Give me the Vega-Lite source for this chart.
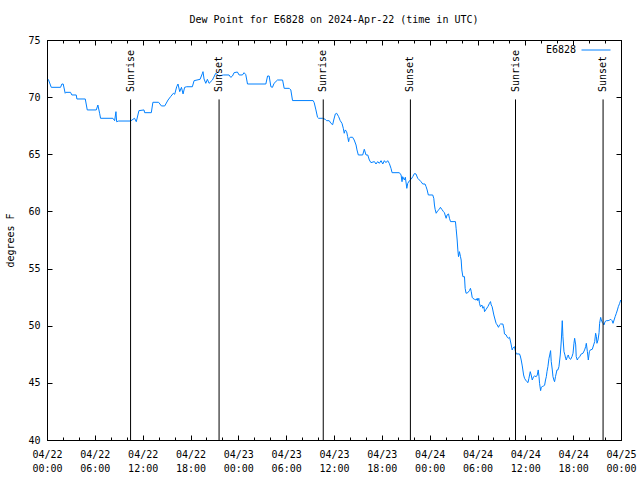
{
  "$schema": "https://vega.github.io/schema/vega-lite/v6.json",
  "width": 574,
  "height": 400,
  "autosize": "none",
  "padding": {"left": 47, "top": 40, "right": 19, "bottom": 40},
  "background": "white",
  "title": {"text": "Dew Point for E6828 on 2024-Apr-22 (time in UTC)", "anchor": "middle", "font": "DejaVu Sans Mono", "fontSize": 10, "fontWeight": "normal", "color": "black", "offset": 10},
  "datasets": {
    "dew": [
      {"t":"2024-04-22T00:10Z","v":71.56},{"t":"2024-04-22T00:32Z","v":70.86},{"t":"2024-04-22T01:42Z","v":70.86},{"t":"2024-04-22T01:52Z","v":71.15},{"t":"2024-04-22T02:02Z","v":71.15},{"t":"2024-04-22T02:17Z","v":70.34},{"t":"2024-04-22T02:22Z","v":70.42},{"t":"2024-04-22T02:57Z","v":70.42},{"t":"2024-04-22T03:07Z","v":70.19},{"t":"2024-04-22T03:40Z","v":70.19},{"t":"2024-04-22T03:45Z","v":69.84},{"t":"2024-04-22T04:48Z","v":69.84},{"t":"2024-04-22T05:03Z","v":68.88},{"t":"2024-04-22T06:11Z","v":68.88},{"t":"2024-04-22T06:23Z","v":69.31},{"t":"2024-04-22T06:36Z","v":68.59},{"t":"2024-04-22T06:43Z","v":68.15},{"t":"2024-04-22T08:16Z","v":68.15},{"t":"2024-04-22T08:29Z","v":67.94},{"t":"2024-04-22T08:39Z","v":68.73},{"t":"2024-04-22T08:44Z","v":67.85},{"t":"2024-04-22T08:59Z","v":67.91},{"t":"2024-04-22T10:29Z","v":67.91},{"t":"2024-04-22T10:47Z","v":68.06},{"t":"2024-04-22T10:59Z","v":68.15},{"t":"2024-04-22T11:12Z","v":67.85},{"t":"2024-04-22T11:32Z","v":68.82},{"t":"2024-04-22T12:10Z","v":68.88},{"t":"2024-04-22T12:15Z","v":68.64},{"t":"2024-04-22T13:05Z","v":68.64},{"t":"2024-04-22T13:17Z","v":69.55},{"t":"2024-04-22T14:00Z","v":69.55},{"t":"2024-04-22T14:21Z","v":69.23},{"t":"2024-04-22T14:46Z","v":69.23},{"t":"2024-04-22T15:11Z","v":69.75},{"t":"2024-04-22T15:30Z","v":70.04},{"t":"2024-04-22T15:51Z","v":70.34},{"t":"2024-04-22T16:01Z","v":70.25},{"t":"2024-04-22T16:16Z","v":70.91},{"t":"2024-04-22T16:26Z","v":71.15},{"t":"2024-04-22T16:39Z","v":70.48},{"t":"2024-04-22T16:52Z","v":70.86},{"t":"2024-04-22T17:04Z","v":70.28},{"t":"2024-04-22T17:16Z","v":70.86},{"t":"2024-04-22T17:31Z","v":70.91},{"t":"2024-04-22T18:14Z","v":70.91},{"t":"2024-04-22T18:27Z","v":71.44},{"t":"2024-04-22T19:12Z","v":71.56},{"t":"2024-04-22T19:30Z","v":72.09},{"t":"2024-04-22T19:34Z","v":72.23},{"t":"2024-04-22T19:42Z","v":71.59},{"t":"2024-04-22T19:55Z","v":71.21},{"t":"2024-04-22T20:07Z","v":71.56},{"t":"2024-04-22T20:20Z","v":71.21},{"t":"2024-04-22T20:45Z","v":71.5},{"t":"2024-04-22T21:10Z","v":72.09},{"t":"2024-04-22T21:35Z","v":71.85},{"t":"2024-04-22T22:08Z","v":71.94},{"t":"2024-04-22T22:50Z","v":71.94},{"t":"2024-04-22T23:03Z","v":71.73},{"t":"2024-04-22T23:16Z","v":71.85},{"t":"2024-04-22T23:28Z","v":72.14},{"t":"2024-04-22T23:53Z","v":72.2},
      {"t":"2024-04-23T00:06Z","v":71.94},{"t":"2024-04-23T00:31Z","v":71.94},{"t":"2024-04-23T00:43Z","v":72.14},{"t":"2024-04-23T00:56Z","v":71.97},{"t":"2024-04-23T01:09Z","v":71.15},{"t":"2024-04-23T03:27Z","v":71.15},{"t":"2024-04-23T03:40Z","v":71.85},{"t":"2024-04-23T03:52Z","v":71.85},{"t":"2024-04-23T04:05Z","v":70.91},{"t":"2024-04-23T04:17Z","v":70.86},{"t":"2024-04-23T04:29Z","v":71.21},{"t":"2024-04-23T04:55Z","v":71.5},{"t":"2024-04-23T05:33Z","v":71.5},{"t":"2024-04-23T05:45Z","v":70.77},{"t":"2024-04-23T06:23Z","v":70.77},{"t":"2024-04-23T06:35Z","v":70.63},{"t":"2024-04-23T06:48Z","v":69.7},{"t":"2024-04-23T09:23Z","v":69.7},{"t":"2024-04-23T09:31Z","v":69.52},{"t":"2024-04-23T09:44Z","v":68.88},{"t":"2024-04-23T09:56Z","v":68.24},{"t":"2024-04-23T10:04Z","v":68.15},{"t":"2024-04-23T10:34Z","v":68.15},{"t":"2024-04-23T10:54Z","v":68.06},{"t":"2024-04-23T11:04Z","v":67.94},{"t":"2024-04-23T11:24Z","v":67.94},{"t":"2024-04-23T11:37Z","v":67.71},{"t":"2024-04-23T11:50Z","v":67.59},{"t":"2024-04-23T11:58Z","v":68.0},{"t":"2024-04-23T12:10Z","v":68.53},{"t":"2024-04-23T12:20Z","v":68.59},{"t":"2024-04-23T12:35Z","v":68.29},{"t":"2024-04-23T12:47Z","v":67.94},{"t":"2024-04-23T13:00Z","v":67.71},{"t":"2024-04-23T13:10Z","v":67.27},{"t":"2024-04-23T13:17Z","v":66.84},{"t":"2024-04-23T13:25Z","v":67.13},{"t":"2024-04-23T13:35Z","v":66.98},{"t":"2024-04-23T13:43Z","v":66.54},{"t":"2024-04-23T13:50Z","v":66.1},{"t":"2024-04-23T13:55Z","v":66.4},{"t":"2024-04-23T14:02Z","v":66.49},{"t":"2024-04-23T14:20Z","v":66.49},{"t":"2024-04-23T14:32Z","v":66.25},{"t":"2024-04-23T14:46Z","v":65.81},{"t":"2024-04-23T14:53Z","v":65.38},{"t":"2024-04-23T15:03Z","v":64.94},{"t":"2024-04-23T15:36Z","v":64.94},{"t":"2024-04-23T15:48Z","v":65.44},{"t":"2024-04-23T16:01Z","v":64.94},{"t":"2024-04-23T16:14Z","v":64.94},{"t":"2024-04-23T16:26Z","v":64.5},{"t":"2024-04-23T16:38Z","v":64.27},{"t":"2024-04-23T17:04Z","v":64.36},{"t":"2024-04-23T17:16Z","v":64.15},{"t":"2024-04-23T17:29Z","v":64.36},{"t":"2024-04-23T17:41Z","v":64.21},{"t":"2024-04-23T17:54Z","v":64.44},{"t":"2024-04-23T18:07Z","v":64.15},{"t":"2024-04-23T18:19Z","v":64.44},{"t":"2024-04-23T18:31Z","v":64.27},{"t":"2024-04-23T18:44Z","v":64.44},{"t":"2024-04-23T18:56Z","v":64.21},{"t":"2024-04-23T19:09Z","v":63.77},{"t":"2024-04-23T19:17Z","v":63.39},{"t":"2024-04-23T20:12Z","v":63.39},{"t":"2024-04-23T20:25Z","v":63.19},{"t":"2024-04-23T20:32Z","v":62.6},{"t":"2024-04-23T20:37Z","v":63.04},{"t":"2024-04-23T20:50Z","v":62.75},{"t":"2024-04-23T20:57Z","v":62.99},{"t":"2024-04-23T21:08Z","v":62.02},{"t":"2024-04-23T21:15Z","v":62.46},{"t":"2024-04-23T21:28Z","v":62.69},{"t":"2024-04-23T21:40Z","v":62.81},{"t":"2024-04-23T21:53Z","v":63.05},{"t":"2024-04-23T22:05Z","v":63.31},{"t":"2024-04-23T22:17Z","v":63.28},{"t":"2024-04-23T22:30Z","v":62.9},{"t":"2024-04-23T22:43Z","v":62.75},{"t":"2024-04-23T22:55Z","v":62.6},{"t":"2024-04-23T23:08Z","v":62.4},{"t":"2024-04-23T23:25Z","v":62.4},{"t":"2024-04-23T23:33Z","v":62.17},{"t":"2024-04-23T23:41Z","v":61.88},{"t":"2024-04-23T23:50Z","v":61.44},
      {"t":"2024-04-24T00:23Z","v":61.44},{"t":"2024-04-24T00:31Z","v":61.15},{"t":"2024-04-24T00:36Z","v":60.56},{"t":"2024-04-24T00:41Z","v":60.19},{"t":"2024-04-24T00:49Z","v":59.84},{"t":"2024-04-24T01:01Z","v":60.07},{"t":"2024-04-24T01:13Z","v":60.19},{"t":"2024-04-24T01:21Z","v":60.36},{"t":"2024-04-24T01:31Z","v":60.19},{"t":"2024-04-24T01:44Z","v":59.98},{"t":"2024-04-24T01:51Z","v":59.89},{"t":"2024-04-24T01:56Z","v":59.69},{"t":"2024-04-24T02:04Z","v":59.4},{"t":"2024-04-24T02:11Z","v":59.69},{"t":"2024-04-24T02:22Z","v":59.78},{"t":"2024-04-24T02:29Z","v":59.4},{"t":"2024-04-24T02:37Z","v":59.11},{"t":"2024-04-24T03:14Z","v":59.11},{"t":"2024-04-24T03:19Z","v":58.53},{"t":"2024-04-24T03:27Z","v":57.5},{"t":"2024-04-24T03:32Z","v":56.63},{"t":"2024-04-24T03:37Z","v":56.04},{"t":"2024-04-24T03:44Z","v":56.48},{"t":"2024-04-24T03:52Z","v":56.04},{"t":"2024-04-24T03:57Z","v":55.75},{"t":"2024-04-24T04:02Z","v":54.88},{"t":"2024-04-24T04:10Z","v":54.29},{"t":"2024-04-24T04:22Z","v":54.29},{"t":"2024-04-24T04:27Z","v":53.27},{"t":"2024-04-24T04:34Z","v":52.84},{"t":"2024-04-24T04:47Z","v":52.89},{"t":"2024-04-24T04:59Z","v":53.07},{"t":"2024-04-24T05:07Z","v":53.27},{"t":"2024-04-24T05:13Z","v":52.98},{"t":"2024-04-24T05:20Z","v":52.49},{"t":"2024-04-24T05:25Z","v":52.4},{"t":"2024-04-24T05:37Z","v":52.31},{"t":"2024-04-24T05:50Z","v":52.25},{"t":"2024-04-24T05:58Z","v":52.4},{"t":"2024-04-24T06:02Z","v":52.19},{"t":"2024-04-24T06:10Z","v":52.4},{"t":"2024-04-24T06:15Z","v":51.96},{"t":"2024-04-24T06:22Z","v":51.67},{"t":"2024-04-24T06:33Z","v":51.81},{"t":"2024-04-24T06:40Z","v":51.53},{"t":"2024-04-24T06:48Z","v":51.67},{"t":"2024-04-24T06:53Z","v":51.23},{"t":"2024-04-24T07:05Z","v":51.44},{"t":"2024-04-24T07:18Z","v":51.67},{"t":"2024-04-24T07:30Z","v":51.96},{"t":"2024-04-24T07:38Z","v":52.11},{"t":"2024-04-24T07:43Z","v":51.82},{"t":"2024-04-24T07:50Z","v":51.67},{"t":"2024-04-24T08:03Z","v":50.94},{"t":"2024-04-24T08:13Z","v":50.5},{"t":"2024-04-24T08:20Z","v":50.21},{"t":"2024-04-24T08:28Z","v":50.07},{"t":"2024-04-24T08:38Z","v":49.86},{"t":"2024-04-24T08:46Z","v":50.07},{"t":"2024-04-24T08:53Z","v":50.15},{"t":"2024-04-24T09:11Z","v":50.15},{"t":"2024-04-24T09:18Z","v":49.78},{"t":"2024-04-24T09:23Z","v":49.28},{"t":"2024-04-24T09:36Z","v":49.19},{"t":"2024-04-24T09:44Z","v":48.99},{"t":"2024-04-24T09:51Z","v":48.9},{"t":"2024-04-24T10:01Z","v":48.99},{"t":"2024-04-24T10:06Z","v":48.75},{"t":"2024-04-24T10:14Z","v":48.32},{"t":"2024-04-24T10:21Z","v":47.88},{"t":"2024-04-24T10:26Z","v":48.03},{"t":"2024-04-24T10:38Z","v":48.17},{"t":"2024-04-24T10:46Z","v":47.73},{"t":"2024-04-24T10:52Z","v":47.53},{"t":"2024-04-24T11:16Z","v":47.53},{"t":"2024-04-24T11:22Z","v":47.35},{"t":"2024-04-24T11:29Z","v":47.0},{"t":"2024-04-24T11:37Z","v":46.48},{"t":"2024-04-24T11:47Z","v":45.69},{"t":"2024-04-24T11:54Z","v":45.4},{"t":"2024-04-24T12:02Z","v":45.25},{"t":"2024-04-24T12:12Z","v":45.1},{"t":"2024-04-24T12:20Z","v":45.02},{"t":"2024-04-24T12:27Z","v":45.4},{"t":"2024-04-24T12:37Z","v":45.98},{"t":"2024-04-24T12:44Z","v":45.69},{"t":"2024-04-24T12:52Z","v":45.25},{"t":"2024-04-24T13:02Z","v":45.54},{"t":"2024-04-24T13:10Z","v":45.6},{"t":"2024-04-24T13:22Z","v":45.54},{"t":"2024-04-24T13:30Z","v":45.69},{"t":"2024-04-24T13:37Z","v":46.13},{"t":"2024-04-24T13:43Z","v":45.54},{"t":"2024-04-24T13:47Z","v":44.96},{"t":"2024-04-24T13:55Z","v":44.32},{"t":"2024-04-24T14:00Z","v":44.61},{"t":"2024-04-24T14:07Z","v":44.67},{"t":"2024-04-24T14:17Z","v":44.73},{"t":"2024-04-24T14:25Z","v":44.79},{"t":"2024-04-24T14:32Z","v":45.25},{"t":"2024-04-24T14:38Z","v":45.54},{"t":"2024-04-24T14:43Z","v":45.98},{"t":"2024-04-24T14:50Z","v":46.42},{"t":"2024-04-24T14:58Z","v":47.15},{"t":"2024-04-24T15:02Z","v":47.35},{"t":"2024-04-24T15:10Z","v":47.82},{"t":"2024-04-24T15:15Z","v":46.86},{"t":"2024-04-24T15:23Z","v":46.13},{"t":"2024-04-24T15:28Z","v":45.54},{"t":"2024-04-24T15:35Z","v":45.25},{"t":"2024-04-24T15:40Z","v":45.1},{"t":"2024-04-24T15:47Z","v":45.54},{"t":"2024-04-24T15:58Z","v":46.13},{"t":"2024-04-24T16:05Z","v":46.13},{"t":"2024-04-24T16:13Z","v":46.42},{"t":"2024-04-24T16:23Z","v":47.44},{"t":"2024-04-24T16:31Z","v":48.75},{"t":"2024-04-24T16:38Z","v":50.44},{"t":"2024-04-24T16:43Z","v":49.04},{"t":"2024-04-24T16:51Z","v":47.73},{"t":"2024-04-24T16:58Z","v":47.44},{"t":"2024-04-24T17:03Z","v":47.15},{"t":"2024-04-24T17:08Z","v":47.0},{"t":"2024-04-24T17:16Z","v":47.29},{"t":"2024-04-24T17:23Z","v":47.44},{"t":"2024-04-24T17:31Z","v":47.15},{"t":"2024-04-24T17:41Z","v":47.06},{"t":"2024-04-24T17:51Z","v":47.29},{"t":"2024-04-24T17:59Z","v":47.59},{"t":"2024-04-24T18:06Z","v":48.46},{"t":"2024-04-24T18:11Z","v":48.9},{"t":"2024-04-24T18:19Z","v":48.32},{"t":"2024-04-24T18:23Z","v":47.29},{"t":"2024-04-24T18:31Z","v":47.0},{"t":"2024-04-24T18:38Z","v":47.15},{"t":"2024-04-24T18:49Z","v":47.29},{"t":"2024-04-24T19:01Z","v":47.53},{"t":"2024-04-24T19:14Z","v":47.59},{"t":"2024-04-24T19:26Z","v":47.88},{"t":"2024-04-24T19:34Z","v":48.17},{"t":"2024-04-24T19:39Z","v":48.46},{"t":"2024-04-24T19:47Z","v":47.73},{"t":"2024-04-24T19:54Z","v":47.0},{"t":"2024-04-24T20:02Z","v":47.73},{"t":"2024-04-24T20:09Z","v":47.88},{"t":"2024-04-24T20:24Z","v":47.94},{"t":"2024-04-24T20:34Z","v":48.32},{"t":"2024-04-24T20:42Z","v":48.61},{"t":"2024-04-24T20:49Z","v":49.34},{"t":"2024-04-24T20:55Z","v":49.04},{"t":"2024-04-24T20:59Z","v":48.46},{"t":"2024-04-24T21:07Z","v":48.75},{"t":"2024-04-24T21:15Z","v":49.39},{"t":"2024-04-24T21:19Z","v":50.21},{"t":"2024-04-24T21:27Z","v":50.73},{"t":"2024-04-24T21:32Z","v":50.5},{"t":"2024-04-24T21:40Z","v":50.27},{"t":"2024-04-24T21:45Z","v":50.21},{"t":"2024-04-24T21:52Z","v":50.07},{"t":"2024-04-24T22:00Z","v":50.36},{"t":"2024-04-24T22:10Z","v":50.44},{"t":"2024-04-24T22:23Z","v":50.44},{"t":"2024-04-24T22:35Z","v":50.5},{"t":"2024-04-24T22:43Z","v":50.56},{"t":"2024-04-24T22:53Z","v":50.44},{"t":"2024-04-24T23:00Z","v":50.21},{"t":"2024-04-24T23:08Z","v":50.5},{"t":"2024-04-24T23:16Z","v":50.79},{"t":"2024-04-24T23:25Z","v":51.09},{"t":"2024-04-24T23:33Z","v":51.38},{"t":"2024-04-24T23:40Z","v":51.67},{"t":"2024-04-24T23:50Z","v":51.96},{"t":"2024-04-24T23:58Z","v":52.25}
    ],
    "sun": [
      {"t":"2024-04-22T10:29Z","event":"Sunrise"},
      {"t":"2024-04-22T21:35Z","event":"Sunset"},
      {"t":"2024-04-23T10:39Z","event":"Sunrise"},
      {"t":"2024-04-23T21:35Z","event":"Sunset"},
      {"t":"2024-04-24T10:46Z","event":"Sunrise"},
      {"t":"2024-04-24T21:45Z","event":"Sunset"}
    ]
  },
  "layer": [
    {
      "data": {"name": "dew"},
      "mark": {"type": "line", "strokeWidth": 1},
      "encoding": {
        "x": {
          "field": "t", "type": "temporal",
          "scale": {"type": "utc", "domain": [1713744000000, 1714003200000], "nice": false},
          "axis": {
            "orient": "bottom", "title": null,
            "values": [1713744000000, 1713765600000, 1713787200000, 1713808800000, 1713830400000, 1713852000000, 1713873600000, 1713895200000, 1713916800000, 1713938400000, 1713960000000, 1713981600000, 1714003200000],
            "labelExpr": "[utcFormat(datum.value, '%m/%d'), utcFormat(datum.value, '%H:%M')]",
            "tickSize": -5,
            "labelPadding": 14, "labelOverlap": false, "labelFlush": false, "labelLineHeight": 14
          }
        },
        "y": {
          "field": "v", "type": "quantitative",
          "scale": {"domain": [40, 75], "nice": false, "zero": false},
          "axis": {
            "orient": "left", "values": [40, 45, 50, 55, 60, 65, 70, 75], "tickSize": -5, "labelPadding": 12,
            "title": "degrees F", "titlePadding": 12
          }
        },
        "color": {
          "datum": "E6828", "type": "nominal",
          "scale": {"range": ["#0080ff"]},
          "legend": {"title": null, "orient": "none", "legendX": 534, "legendY": -5, "symbolType": "stroke", "symbolSize": 841, "symbolStrokeWidth": 1, "labelAlign": "right", "labelOffset": -35, "labelFont": "DejaVu Sans Mono", "labelFontSize": 10, "labelColor": "black", "padding": 0}
        }
      }
    },
    {
      "data": {"name": "dew"},
      "mark": {"type": "point", "opacity": 0},
      "encoding": {
        "x": {
          "field": "t", "type": "temporal",
          "axis": {
            "orient": "bottom", "title": null, "labels": false, "domain": false, "tickSize": -3,
            "values": [1713744000000, 1713751200000, 1713758400000, 1713765600000, 1713772800000, 1713780000000, 1713787200000, 1713794400000, 1713801600000, 1713808800000, 1713816000000, 1713823200000, 1713830400000, 1713837600000, 1713844800000, 1713852000000, 1713859200000, 1713866400000, 1713873600000, 1713880800000, 1713888000000, 1713895200000, 1713902400000, 1713909600000, 1713916800000, 1713924000000, 1713931200000, 1713938400000, 1713945600000, 1713952800000, 1713960000000, 1713967200000, 1713974400000, 1713981600000, 1713988800000, 1713996000000, 1714003200000]
          }
        },
        "y": {
          "field": "v", "type": "quantitative",
          "axis": {"orient": "right", "title": null, "labels": false, "values": [40, 45, 50, 55, 60, 65, 70, 75], "tickSize": -5}
        }
      }
    },
    {
      "data": {"name": "dew"},
      "mark": {"type": "point", "opacity": 0},
      "encoding": {
        "x": {
          "field": "t", "type": "temporal",
          "axis": {
            "orient": "top", "title": null, "labels": false, "tickSize": -5,
            "values": [1713744000000, 1713765600000, 1713787200000, 1713808800000, 1713830400000, 1713852000000, 1713873600000, 1713895200000, 1713916800000, 1713938400000, 1713960000000, 1713981600000, 1714003200000]
          }
        },
        "y": {"field": "v", "type": "quantitative", "axis": null}
      }
    },
    {
      "data": {"name": "dew"},
      "mark": {"type": "point", "opacity": 0},
      "encoding": {
        "x": {
          "field": "t", "type": "temporal",
          "axis": {
            "orient": "top", "title": null, "labels": false, "domain": false, "tickSize": -3,
            "values": [1713744000000, 1713751200000, 1713758400000, 1713765600000, 1713772800000, 1713780000000, 1713787200000, 1713794400000, 1713801600000, 1713808800000, 1713816000000, 1713823200000, 1713830400000, 1713837600000, 1713844800000, 1713852000000, 1713859200000, 1713866400000, 1713873600000, 1713880800000, 1713888000000, 1713895200000, 1713902400000, 1713909600000, 1713916800000, 1713924000000, 1713931200000, 1713938400000, 1713945600000, 1713952800000, 1713960000000, 1713967200000, 1713974400000, 1713981600000, 1713988800000, 1713996000000, 1714003200000]
          }
        },
        "y": {"field": "v", "type": "quantitative", "axis": null}
      }
    },
    {
      "data": {"name": "sun"},
      "mark": {"type": "rule", "color": "black", "strokeWidth": 1},
      "encoding": {
        "x": {"field": "t", "type": "temporal", "axis": null},
        "y": {"datum": 40, "axis": null},
        "y2": {"datum": 69.8}
      }
    },
    {
      "data": {"name": "sun"},
      "mark": {"type": "text", "angle": 270, "align": "left", "baseline": "middle", "font": "DejaVu Sans Mono", "fontSize": 10, "color": "black"},
      "encoding": {
        "x": {"field": "t", "type": "temporal", "axis": null},
        "y": {"datum": 70.45, "axis": null},
        "text": {"field": "event"}
      }
    }
  ],
  "resolve": {"axis": {"x": "independent", "y": "independent"}},
  "config": {
    "view": {"stroke": "black"},
    "font": "DejaVu Sans Mono",
    "axis": {
      "grid": false, "domainColor": "black", "domainWidth": 1, "tickColor": "black", "tickWidth": 1,
      "labelColor": "black", "labelFont": "DejaVu Sans Mono", "labelFontSize": 10,
      "titleColor": "black", "titleFont": "DejaVu Sans Mono", "titleFontSize": 10, "titleFontWeight": "normal"
    }
  }
}
